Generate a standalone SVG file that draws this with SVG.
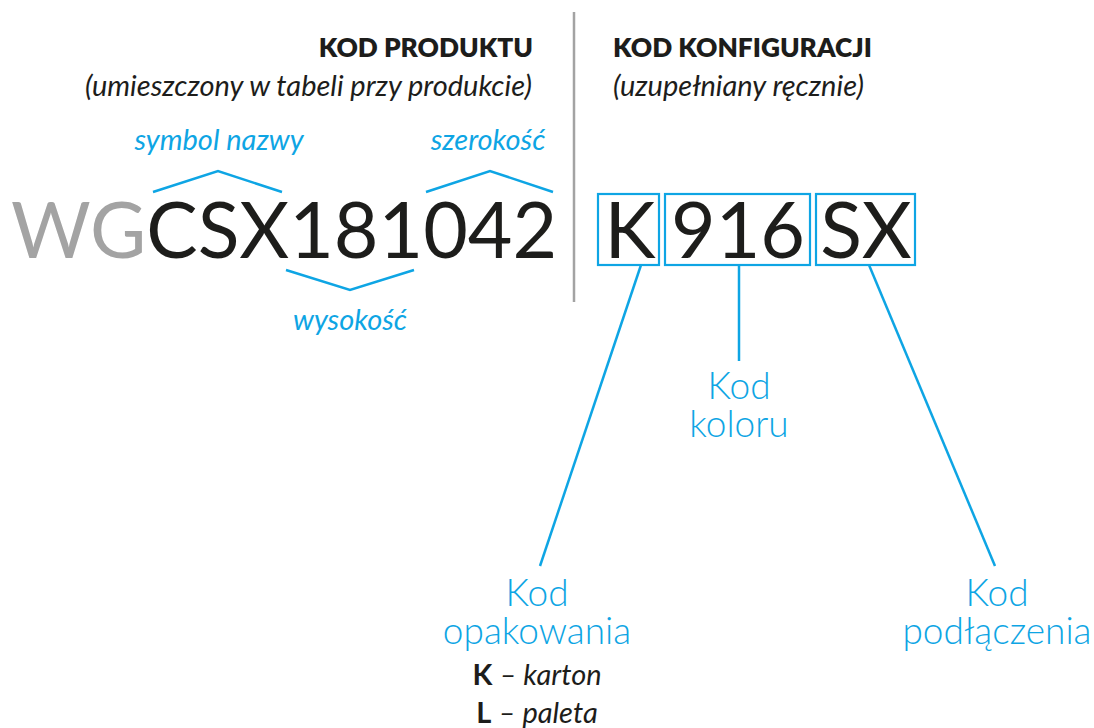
<svg xmlns="http://www.w3.org/2000/svg" width="1094" height="728" viewBox="0 0 1094 728">
<style>
text{font-family:Lato,"Open Sans","Liberation Sans",sans-serif}
.h{font-weight:800;font-size:26.3px;fill:#1d1d1b}
.sub{font-style:italic;font-size:29px;fill:#1d1d1b}
.lbl{font-style:italic;font-size:29px;fill:#0ea5e4}
.big{font-weight:400;font-size:77px;fill:#1d1d1b}
.blue{font-weight:300;font-size:37px;fill:#0ea5e4}
.leg{font-size:29px;fill:#1d1d1b}
.ln{fill:none;stroke:#0ea5e4;stroke-width:2.5}
.box{fill:none;stroke:#0ea5e4;stroke-width:2.2}
</style>
<rect width="1094" height="728" fill="#fff"/>
<line x1="574" y1="12" x2="574" y2="302" stroke="#a3a3a3" stroke-width="2.5"/>
<g id="produkt-header">
<text class="h" x="533" y="57" text-anchor="end">KOD PRODUKTU</text>
<text class="sub" x="532" y="96" text-anchor="end">(umieszczony w tabeli przy produkcie)</text>
</g>
<g id="konfig-header">
<text class="h" x="613" y="57">KOD KONFIGURACJI</text>
<text class="sub" x="613" y="96">(uzupełniany ręcznie)</text>
</g>
<g id="kod-produktu">
<text class="big" x="11" y="258"><tspan fill="#a3a3a3">WG</tspan>CSX181042</text>
</g>
<g id="label-symbol"><text class="lbl" x="219" y="150" text-anchor="middle">symbol nazwy</text></g>
<g id="label-szerokosc"><text class="lbl" x="488" y="150" text-anchor="middle">szerokość</text></g>
<g id="label-wysokosc"><text class="lbl" x="350" y="330" text-anchor="middle">wysokość</text></g>
<g id="box-k"><rect class="box" x="598" y="194" width="61" height="71"/><text class="big" x="630" y="258" text-anchor="middle">K</text></g>
<g id="box-916"><rect class="box" x="665" y="194" width="145" height="71"/><text class="big" x="738" y="258" text-anchor="middle">916</text></g>
<g id="box-sx"><rect class="box" x="816" y="194" width="99" height="71"/><text class="big" x="866" y="258" text-anchor="middle">SX</text></g>
<g id="kod-koloru"><text class="blue" text-anchor="middle"><tspan x="739" y="399">Kod</tspan><tspan x="739" y="437">koloru</tspan></text></g>
<g id="kod-opakowania">
<text class="blue" text-anchor="middle"><tspan x="537" y="606">Kod</tspan><tspan x="537" y="644">opakowania</tspan></text>
<text class="leg" x="537" y="685" text-anchor="middle"><tspan font-weight="700">K</tspan> <tspan font-style="italic">– karton</tspan></text>
<text class="leg" x="537" y="723" text-anchor="middle"><tspan font-weight="700">L</tspan> <tspan font-style="italic">– paleta</tspan></text>
</g>
<g id="kod-podlaczenia"><text class="blue" text-anchor="middle"><tspan x="997" y="606">Kod</tspan><tspan x="997" y="644">podłączenia</tspan></text></g>
<g id="connectors">
<polyline class="ln" points="153,192 218,171 282,192"/>
<polyline class="ln" points="426,192 490,171 553,192"/>
<polyline class="ln" points="286,270 350,290 414,270"/>
<line class="ln" x1="641" y1="265" x2="540" y2="566"/>
<line class="ln" x1="739" y1="265" x2="739" y2="361"/>
<line class="ln" x1="869" y1="265" x2="995" y2="566"/>
</g>
</svg>
